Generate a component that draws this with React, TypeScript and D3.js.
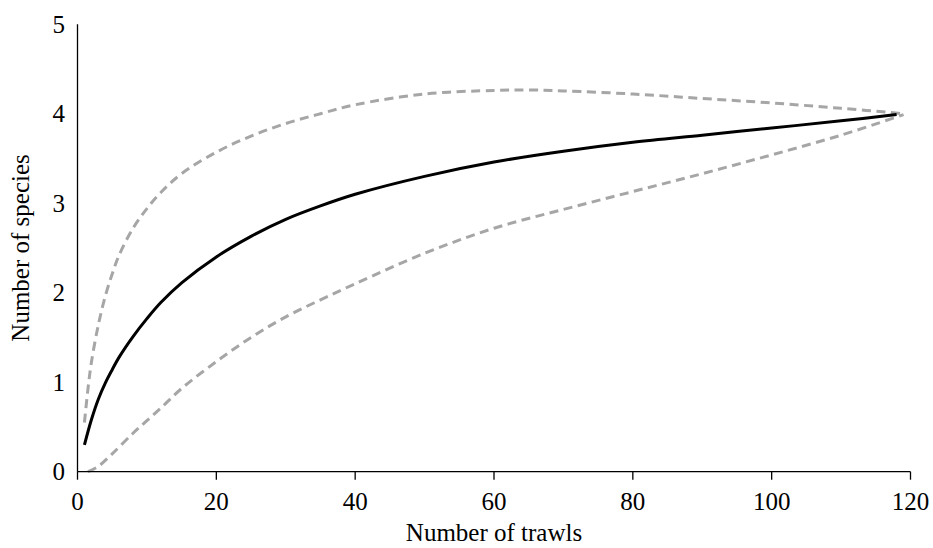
import React from "react";
import * as d3 from "d3";

const xTicks = [0, 20, 40, 60, 80, 100, 120];
const yTicks = [0, 1, 2, 3, 4, 5];

const meanX = [1, 2, 3, 4, 5, 6, 8, 10, 12, 15, 20, 25, 30, 35, 40, 50, 60, 70, 80, 90, 100, 110, 118];
const meanY = [0.3, 0.58, 0.81, 0.99, 1.14, 1.28, 1.51, 1.71, 1.89, 2.11, 2.4, 2.63, 2.82, 2.97, 3.1, 3.3, 3.46, 3.58, 3.68, 3.76, 3.84, 3.92, 3.99];

const upperX = [1, 1.5, 2, 3, 4, 5, 6, 8, 10, 12, 15, 20, 25, 30, 35, 40, 50, 60, 65, 70, 80, 90, 100, 110, 119];
const upperY = [0.55, 0.92, 1.22, 1.64, 1.96, 2.21, 2.42, 2.72, 2.94, 3.12, 3.33, 3.57, 3.75, 3.89, 4.0, 4.1, 4.22, 4.26, 4.265, 4.255, 4.22, 4.17, 4.12, 4.06, 4.0];

const lowerX = [1.5, 3, 5, 8, 10, 12, 15, 20, 25, 30, 35, 40, 50, 60, 70, 80, 90, 100, 110, 119];
const lowerY = [0.0, 0.06, 0.2, 0.43, 0.57, 0.71, 0.93, 1.23, 1.5, 1.73, 1.92, 2.1, 2.44, 2.72, 2.93, 3.13, 3.33, 3.54, 3.76, 3.99];

const W = 933;
const H = 548;
const FONT = "'Liberation Serif', 'Times New Roman', serif";

export default function App() {
  const x = d3.scaleLinear().domain([0, 120]).range([77.5, 910.5]);
  const y = d3.scaleLinear().domain([0, 5]).range([471.7, 24.2]);

  const line = d3
    .line<[number, number]>()
    .x((d) => x(d[0]))
    .y((d) => y(d[1]))
    .curve(d3.curveCatmullRom.alpha(0.5));

  const zip = (xs: number[], ys: number[]) => xs.map((v, i) => [v, ys[i]] as [number, number]);

  return (
    <svg
      width={W}
      height={H}
      style={{ position: "absolute", left: 0, top: 0, background: "#fff" }}
      fontFamily={FONT}
    >
      <rect width={W} height={H} fill="#fff" />
      <path d={line(zip(upperX, upperY)) || ""} fill="none" stroke="#A6A6A6" strokeWidth={3} strokeDasharray="9,5.5" />
      <path d={line(zip(lowerX, lowerY)) || ""} fill="none" stroke="#A6A6A6" strokeWidth={3} strokeDasharray="9,5.5" />
      <path d={line(zip(meanX, meanY)) || ""} fill="none" stroke="#000" strokeWidth={3} />

      <line x1={x(0)} x2={x(0)} y1={y(5)} y2={y(0)} stroke="#000" strokeWidth={1.3} />
      <line x1={x(0)} x2={x(120)} y1={y(0)} y2={y(0)} stroke="#000" strokeWidth={1.3} />
      {xTicks.map((t) => (
        <g key={t}>
          <line x1={x(t)} x2={x(t)} y1={y(0)} y2={y(0) + 8} stroke="#000" strokeWidth={1.3} />
          <text x={x(t)} y={510} textAnchor="middle" fontSize={25} fill="#000">
            {t}
          </text>
        </g>
      ))}
      {yTicks.map((t) => (
        <text key={t} x={65} y={y(t) + 8.5} textAnchor="end" fontSize={25} fill="#000">
          {t}
        </text>
      ))}
      <text x={(x(0) + x(120)) / 2} y={541} textAnchor="middle" fontSize={25} fill="#000">
        Number of trawls
      </text>
      <text
        transform={`translate(29, ${(y(0) + y(5)) / 2}) rotate(-90)`}
        textAnchor="middle"
        fontSize={25}
        fill="#000"
      >
        Number of species
      </text>
    </svg>
  );
}
